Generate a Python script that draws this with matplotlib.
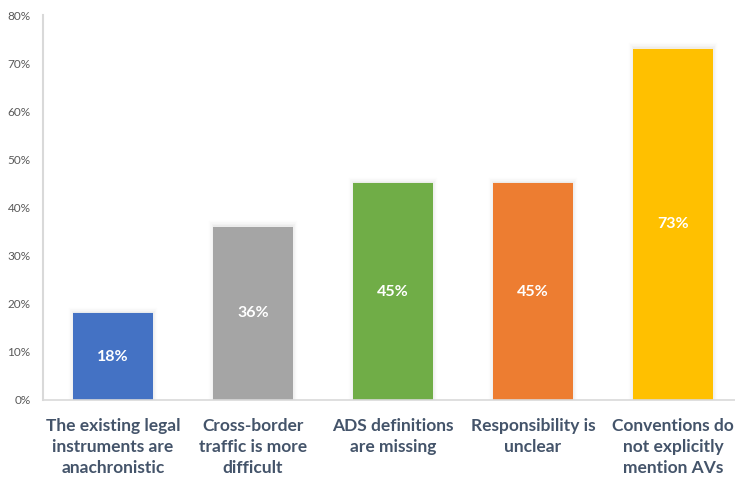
import matplotlib
matplotlib.use("Agg")
import matplotlib.pyplot as plt
import matplotlib.patheffects as pe
from matplotlib.ticker import PercentFormatter

categories = ["The existing legal\ninstruments are\nanachronistic",
              "Cross-border\ntraffic is more\ndifficult",
              "ADS definitions\nare missing",
              "Responsibility is\nunclear",
              "Conventions do\nnot explicitly\nmention AVs"]
values = [18, 36, 45, 45, 73]
colors = ["#4472C4", "#A5A5A5", "#70AD47", "#ED7D31", "#FFC000"]
yticks = [0, 10, 20, 30, 40, 50, 60, 70, 80]

plt.rcParams['font.family'] = ['Lato', 'DejaVu Sans']

fig = plt.figure(figsize=(7.35, 4.8), dpi=100)
ax = fig.add_axes([43 / 735, 80 / 480, 700 / 735, 385 / 480])

x = range(len(values))
bars = ax.bar(x, values, width=80 / 140, color=colors, zorder=2)
# faint glow around the bars
glow = [pe.Stroke(linewidth=w, foreground="black", alpha=a, offset=(0, 1))
        for w, a in [(6, 0.012), (4, 0.018), (2, 0.025)]]
for b in bars:
    b.set_path_effects(glow + [pe.Normal()])

for xi, v in zip(x, values):
    ax.text(xi, v / 2, f"{v}%", ha="center", va="center", color="white",
            fontsize=11.5, fontweight="bold")

ax.set_xlim(-0.5, len(values) - 0.5)
ax.set_ylim(0, 80)
ax.set_yticks(yticks)
ax.yaxis.set_major_formatter(PercentFormatter(decimals=0))
ax.tick_params(axis="y", length=0, labelsize=8.5, labelcolor="#595959", pad=9)
ax.tick_params(axis="x", length=0, pad=13)
ax.set_xticks(list(x))
ax.set_xticklabels(categories, fontsize=12.5, fontweight="bold", color="#44546A",
                   linespacing=1.4, va="top")

for s in ["top", "right"]:
    ax.spines[s].set_visible(False)
ax.spines["left"].set_color("#D9D9D9")
ax.spines["left"].set_linewidth(1.5)
ax.spines["bottom"].set_color("#D9D9D9")
ax.spines["bottom"].set_linewidth(1.2)
ax.spines["left"].set_zorder(3)
ax.spines["bottom"].set_zorder(3)

fig.savefig("out.png", dpi=100)
